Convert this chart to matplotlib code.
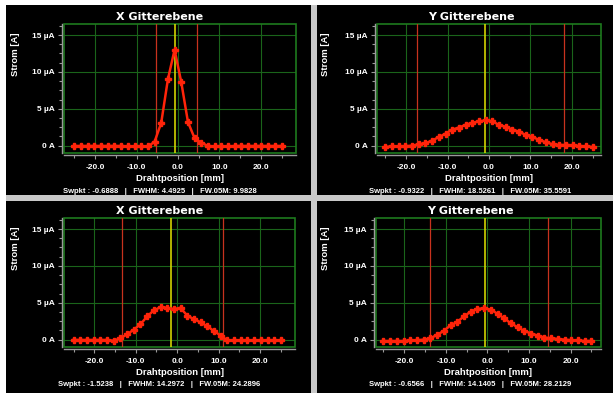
import numpy as np
import matplotlib
matplotlib.use('Agg')
import matplotlib.pyplot as plt
from matplotlib.patches import Rectangle
from matplotlib.ticker import MultipleLocator

plt.rcParams['font.family'] = ['Liberation Sans', 'DejaVu Sans']
plt.rcParams['font.weight'] = 'bold'

W, H = 613, 393

# wire positions [mm]
positions = [-25.0, -23.39, -21.77, -20.16, -18.55, -16.94, -15.32, -13.71,
             -12.10, -10.48, -8.87, -7.26, -5.65, -4.03, -2.42, -0.81,
             0.81, 2.42, 4.03, 5.65, 7.26, 8.87, 10.48, 12.10,
             13.71, 15.32, 16.94, 18.55, 20.16, 21.77, 23.39, 25.0]

# current [uA]
strom_x1 = [-0.05, -0.05, -0.05, -0.05, -0.05, -0.05, -0.05, -0.05,
            -0.1, -0.1, -0.1, -0.1, 0.5, 3.1, 9.0, 13.0,
            8.6, 3.2, 1.0, 0.4, -0.05, -0.1, -0.1, -0.1,
            -0.05, -0.05, -0.05, -0.05, -0.05, -0.05, -0.05, -0.05]
strom_y1 = [-0.19, -0.09, -0.09, -0.09, 0.0, 0.19, 0.32, 0.69,
            1.16, 1.62, 2.18, 2.45, 2.82, 3.1, 3.29, 3.43,
            3.29, 2.82, 2.55, 2.18, 1.9, 1.44, 1.16, 0.79,
            0.46, 0.19, 0.09, 0.09, 0.05, -0.05, -0.09, -0.19]
strom_x2 = [-0.05, -0.05, -0.05, -0.05, -0.05, -0.05, -0.14, 0.18,
            0.72, 1.35, 2.07, 3.15, 3.96, 4.41, 4.32, 4.14,
            4.32, 3.24, 2.79, 2.34, 1.8, 1.17, 0.54, -0.09,
            -0.09, -0.09, -0.09, -0.09, -0.09, -0.09, -0.09, -0.09]
strom_y2 = [-0.19, -0.19, -0.19, -0.19, -0.09, -0.09, 0.0, 0.19,
            0.65, 1.2, 1.94, 2.41, 3.15, 3.8, 4.17, 4.26,
            4.07, 3.52, 2.87, 2.22, 1.67, 1.2, 0.83, 0.56,
            0.28, 0.19, 0.09, 0.0, -0.09, -0.09, -0.19, -0.19]

titles = ['X Gitterebene', 'Y Gitterebene', 'X Gitterebene', 'Y Gitterebene']
swpkt = [-0.6888, -0.9322, -1.5238, -0.6566]
fwhm = [4.4925, 18.5261, 14.2972, 14.1405]
fw05m = [9.9828, 35.5591, 24.2896, 28.2129]
# red marker lines (FW.05M bounds)
bounds = [(-5.3, 4.68), (-17.4, 18.2), (-13.25, 11.08), (-13.7, 14.46)]

ytick_vals = [0, 5, 10, 15]
ytick_labels = ['0 A', '5 µA', '10 µA', '15 µA']
xtick_vals = [-20, -10, 0, 10, 20]
xtick_labels = ['-20.0', '-10.0', '0.0', '10.0', '20.0']

green = '#1a641a'
axis_gray = '#9a9a9a'


def fx(px):
    return px / W


def fy(py):
    return 1 - py / H


fig = plt.figure(figsize=(W / 100, H / 100), dpi=100, facecolor='#c8c8c8')
fig.add_artist(Rectangle((0, fy(5)), 1, 5 / H, transform=fig.transFigure,
                         facecolor='white', edgecolor='none', zorder=-2))
fig.add_artist(Rectangle((0, 0), 6 / W, 1, transform=fig.transFigure,
                         facecolor='white', edgecolor='none', zorder=-2))

# panel boxes (pixels: x0, y0, x1, y1)
panel_boxes = [(6, 5, 311, 195), (317, 5, 613, 195),
               (6, 201, 311, 393), (317, 201, 613, 393)]
frames = [(64, 24, 296, 153), (377, 24, 601, 153),
          (64, 218, 295, 347), (376, 218, 601, 347)]
xlims = [(-27.5, 28.5), (-27.0, 27.0), (-27.3, 28.4), (-26.8, 27.3)]
title_pos = [(159.5, 16.7), (471, 16.7), (159.2, 211), (470, 211)]
stats_pos = [(159.5, 191.7), (470, 191.7), (158.8, 384), (469.7, 384)]
ylabel_pos = [(15, 54), (326, 54), (15, 248), (326, 248)]
data = [strom_x1, strom_y1, strom_x2, strom_y2]

for i in range(4):
    x0, y0, x1, y1 = panel_boxes[i]
    fig.add_artist(Rectangle((fx(x0), fy(y1)), (x1 - x0) / W, (y1 - y0) / H,
                             transform=fig.transFigure, facecolor='black',
                             edgecolor='none', zorder=-1))

    a0, b0, a1, b1 = frames[i]
    ax = fig.add_axes([fx(a0), fy(b1), (a1 - a0) / W, (b1 - b0) / H], facecolor='black')
    ax.set_xlim(xlims[i])
    ax.set_ylim(-1, 16.5)
    ax.set_axisbelow(True)
    ax.grid(True, which='major', color=green, linewidth=0.8)

    for side in ['top', 'right']:
        ax.spines[side].set_visible(False)
    for side in ['left', 'bottom']:
        ax.spines[side].set_position(('outward', 1.5))
        ax.spines[side].set_color(axis_gray)
        ax.spines[side].set_linewidth(1.0)
    ax.add_patch(Rectangle((0, 0), 1, 1, transform=ax.transAxes, fill=False,
                           edgecolor='#1e7a1e', linewidth=1.2, clip_on=False, zorder=1))

    ax.set_xticks(xtick_vals)
    ax.set_xticklabels(xtick_labels)
    ax.set_yticks(ytick_vals)
    ax.set_yticklabels(ytick_labels)
    ax.xaxis.set_minor_locator(MultipleLocator(5))
    ax.yaxis.set_minor_locator(MultipleLocator(1.25))
    ax.tick_params(which='major', length=3, width=0.8, color=axis_gray,
                   labelcolor='white', labelsize=6)
    ax.tick_params(which='minor', length=2, width=0.8, color=axis_gray)
    ax.tick_params(axis='x', which='both', pad=3.5)
    ax.tick_params(axis='y', which='both', pad=2)

    lo, hi = bounds[i]
    ax.axvline(lo, color='#c8321e', linewidth=0.9, zorder=2)
    ax.axvline(hi, color='#c8321e', linewidth=0.9, zorder=2)
    ax.axvline(swpkt[i], color='#d2d200', linewidth=1.2, zorder=2)

    ax.plot(positions, data[i], color='#ff240a', linewidth=1.8, marker='P',
            markersize=4.3, zorder=3)

    ax.set_xlabel('Drahtposition [mm]', color='white', fontsize=6.8,
                  fontweight='bold', labelpad=2.2)

    tx, ty = title_pos[i]
    fig.text(fx(tx), fy(ty), titles[i], color='white', fontsize=8,
             family='DejaVu Sans', fontweight='bold', ha='center', va='center')
    sx, sy = stats_pos[i]
    stats = 'Swpkt : %.4f   |   FWHM: %.4f   |   FW.05M: %.4f' % (swpkt[i], fwhm[i], fw05m[i])
    fig.text(fx(sx), fy(sy), stats, color='white', fontsize=5.5,
             ha='center', va='center')
    lx, ly = ylabel_pos[i]
    fig.text(fx(lx), fy(ly), 'Strom [A]', color='white', fontsize=6.8,
             rotation=90, ha='center', va='center')

fig.savefig('out.png', dpi=100, facecolor=fig.get_facecolor())
